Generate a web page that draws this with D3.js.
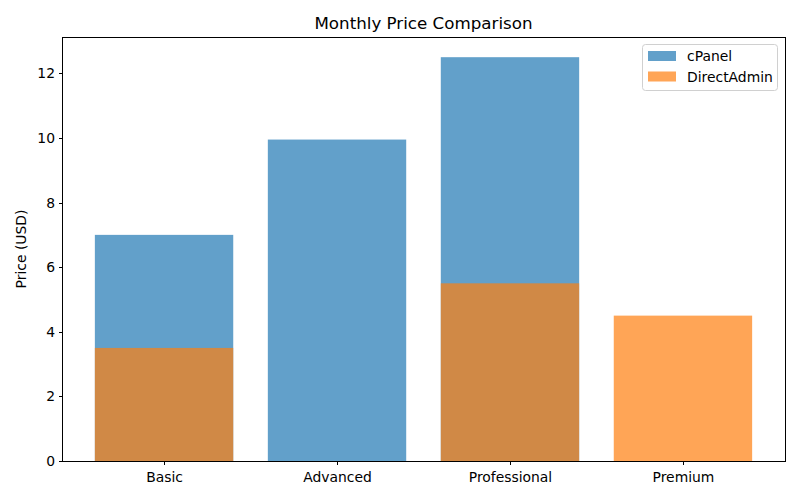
<!DOCTYPE html>
<html><head><meta charset="utf-8">
<script src="https://cdn.jsdelivr.net/npm/d3@7"></script>
<style>body{margin:0;background:#fff;} text{font-family:"DejaVu Sans",sans-serif;fill:#000;}</style>
</head><body><svg id="c" width="800" height="500"></svg>
<script>
const categories = ["Basic","Advanced","Professional","Premium"];
const cpanel = [7.0, 9.95, 12.5, 0];
const directadmin = [3.5, 0, 5.5, 4.5];
const seriesNames = ["cPanel","DirectAdmin"];
const yTicks = [0,2,4,6,8,10,12];

const svg = d3.select("#c");
const L=62,R=785,T=37,B=461;
const x = d3.scaleLinear().domain([-0.59,3.59]).range([L,R]);
const y = d3.scaleLinear().domain([0,13.125]).range([B,T]);
const colors = ["rgba(31,119,180,0.7)","rgba(255,127,14,0.7)"];
const bw = 0.8;

[cpanel, directadmin].forEach((vals,si)=>{
  svg.append("g").selectAll("rect").data(vals).join("rect")
    .attr("x",(d,i)=>x(i-bw/2)).attr("width",x(bw)-x(0))
    .attr("y",d=>y(d)).attr("height",d=>y(0)-y(d))
    .attr("fill",colors[si]);
});

const fs = "13.9px";
const xa = svg.append("g").attr("transform",`translate(0,${B})`)
  .call(d3.axisBottom(x).tickValues(d3.range(categories.length)).tickFormat(i=>categories[i]).tickSize(3.5).tickPadding(7.5));
const ya = svg.append("g").attr("transform",`translate(${L},0)`)
  .call(d3.axisLeft(y).tickValues(yTicks).tickSize(3.5).tickPadding(3.5));
[xa,ya].forEach(a=>{a.select(".domain").remove();a.selectAll("text").style("font-size",fs).style("font-family","DejaVu Sans");a.selectAll("line").attr("stroke","#000").attr("stroke-width",1).attr("shape-rendering","crispEdges");});

svg.append("rect").attr("x",L).attr("y",T).attr("width",R-L).attr("height",B-T)
  .attr("fill","none").attr("stroke","#000").attr("stroke-width",1).attr("shape-rendering","crispEdges");

svg.append("text").attr("x",(L+R)/2).attr("y",29).attr("text-anchor","middle").style("font-size","16.7px").text("Monthly Price Comparison");
svg.append("text").attr("transform",`translate(26,${(T+B)/2}) rotate(-90)`).attr("text-anchor","middle").style("font-size",fs).text("Price (USD)");

const lg = svg.append("g");
lg.append("rect").attr("x",642.5).attr("y",44.5).attr("width",135).attr("height",46).attr("rx",3)
  .attr("fill","rgba(255,255,255,0.8)").attr("stroke","#d0d0d0").attr("stroke-width",1);
seriesNames.forEach((n,i)=>{
  lg.append("rect").attr("x",648).attr("y",51+i*20.5).attr("width",28).attr("height",10).attr("fill",colors[i]);
  lg.append("text").attr("x",687).attr("y",61+i*20.5).style("font-size",fs).text(n);
});
</script></body></html>
